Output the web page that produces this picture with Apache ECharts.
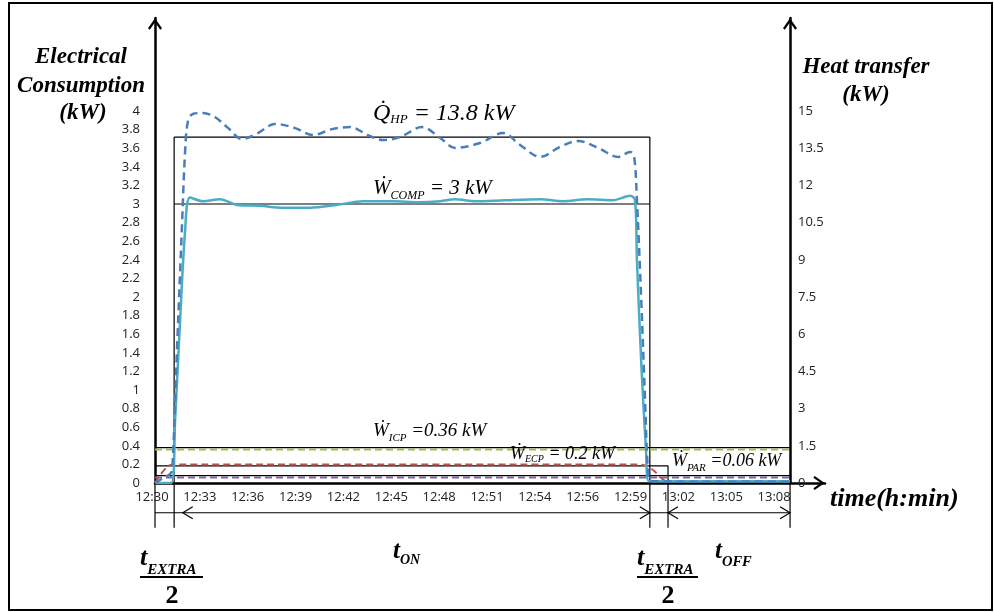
<!DOCTYPE html>
<html>
<head>
<meta charset="utf-8">
<script src="https://cdn.jsdelivr.net/npm/echarts@6/dist/echarts.min.js"></script>
<style>
html,body{margin:0;padding:0;background:#fff;}
#chart{width:994px;height:612px;}
#frame{position:absolute;left:8px;top:2px;width:985px;height:609px;border:2px solid #000;box-sizing:border-box;pointer-events:none;}
</style>
</head>
<body>
<div id="chart"></div>
<div id="frame"></div>
<script>
// ---------------- data ----------------
// x is measured in tick steps of the time axis (0 = 12:30, 1 = 12:33, ...)
const tickLabels = ['12:30','12:33','12:36','12:39','12:42','12:45','12:48','12:51','12:54','12:56','12:59','13:02','13:05','13:08'];
const leftLabelMax = 4;     // kW, last labelled tick (left axis)
const rightLabelMax = 15;   // kW, last labelled tick (right axis)

// Heat transfer of the heat pump (right axis, kW)
const qhpX  = [0, 0.17, 0.31, 0.36, 0.46, 0.56, 0.63, 0.69, 0.79, 1.00, 1.25, 1.53, 1.82, 2.15, 2.51, 2.93, 3.30, 3.70, 4.08, 4.45, 4.76, 5.12, 5.58, 5.96, 6.27, 6.79, 7.27, 7.63, 8.05, 8.46, 8.84, 9.26, 9.68, 9.93, 10.01, 10.07, 10.16, 10.24, 10.30, 10.36, 11.5, 13.27];
const qhpKW = [0, 0.2, 0.36, 0.52, 5.4, 10.2, 13.4, 14.6, 14.88, 14.92, 14.76, 14.31, 13.87, 14.11, 14.48, 14.31, 14.03, 14.27, 14.35, 14.03, 13.83, 13.95, 14.35, 13.91, 13.51, 13.71, 14.11, 13.63, 13.15, 13.55, 13.79, 13.51, 13.15, 13.35, 13.19, 11.4, 7.4, 3.35, 0.52, 0.08, 0.05, 0.05];

// Compressor electrical consumption (left axis, kW)
const compX  = [0, 0.34, 0.42, 0.52, 0.63, 0.73, 1.00, 1.36, 1.71, 2.19, 2.67, 3.24, 3.80, 4.35, 4.97, 5.50, 5.96, 6.27, 6.69, 7.31, 8.05, 8.53, 9.03, 9.57, 9.93, 10.03, 10.07, 10.16, 10.26, 10.32, 11.5, 13.27];
const compKW = [0, 0, 0.68, 1.7, 2.72, 3.07, 3.03, 3.05, 2.99, 2.98, 2.96, 2.96, 2.99, 3.03, 3.03, 3.02, 3.03, 3.05, 3.03, 3.04, 3.05, 3.03, 3.05, 3.04, 3.09, 3.04, 2.4, 1.3, 0.35, 0.02, 0.02, 0.02];

// External circulation pump (left axis, kW)
const ecpX  = [0, 0.36, 1.0, 10.0, 10.2, 10.35, 10.45, 10.55, 10.72];
const ecpKW = [0, 0.2, 0.2, 0.2, 0.195, 0.16, 0.12, 0.065, 0];

// Internal circulation pump (left axis, kW)
const icpX  = [0, 13.27];
const icpKW = [0.36, 0.36];

// Parasitic consumption (left axis, kW)
const parX  = [0, 13.27];
const parKW = [0.06, 0.06];

// phase boundaries (x in tick steps)
const tStart = 0, tOnStart = 0.40, tOnEnd = 10.34, tOffStart = 10.72, tEnd = 13.27;
const tOnArrowTip = 0.58;
// reference levels of the annotation boxes (left axis, kW)
const qhpRefLevel = 3.72, compRefLevel = 3.0, icpBoxTop = 0.38, ecpBoxBottom = 0.185, parBoxBottom = 0.08;
// dimension line levels below the time axis (left axis units)
const dimLevel = -0.32, dimFoot = -0.48;

// ---------------- build ----------------
const pairs = (xs, ys) => xs.map((x, i) => [x, ys[i]]);

const boxSegments = [
  [tOnStart, qhpRefLevel, tOnEnd, qhpRefLevel],
  [tOnStart, compRefLevel, tOnEnd, compRefLevel],
  [tOnStart, qhpRefLevel, tOnStart, dimFoot],
  [tOnEnd, qhpRefLevel, tOnEnd, dimFoot],
  [tStart, icpBoxTop, tEnd, icpBoxTop],
  [tStart, ecpBoxBottom, tOffStart, ecpBoxBottom],
  [tOffStart, ecpBoxBottom, tOffStart, dimFoot],
  [tStart, parBoxBottom, tEnd, parBoxBottom],
  [tStart, 0, tStart, dimFoot],
  [tEnd, 0, tEnd, dimFoot],
  [tStart, dimLevel, tEnd, dimLevel]
];
const dimArrows = [
  [tOnArrowTip, dimLevel, -1],
  [tOnEnd, dimLevel, 1],
  [tOffStart, dimLevel, -1],
  [tEnd, dimLevel, 1]
];

const serif = '"Liberation Serif","Times New Roman",serif';
const sans = '"Open Sans","Liberation Sans",sans-serif';
const chevron = 'path://M0,10 L7,0 L14,10 L12.2,11.3 L7,3.8 L1.8,11.3 Z';

function richText(x, top, parts, align) {
  const rich = {};
  let text = '';
  parts.forEach((p, i) => {
    rich['p' + i] = {
      fontFamily: serif, fontSize: p.size, lineHeight: p.size,
      fontStyle: p.upright ? 'normal' : 'italic',
      fontWeight: p.bold ? 'bold' : 'normal',
      verticalAlign: 'top', padding: [p.drop || 0, 0, 0, 0],
      fill: '#000', color: '#000'
    };
    text += '{p' + i + '|' + p.t + '}';
  });
  return {
    type: 'text', x: x, y: top, silent: true, z: 100,
    style: { text: text, rich: rich, fill: '#000',
      align: align || 'left', textAlign: align || 'left',
      verticalAlign: 'top', textVerticalAlign: 'top' }
  };
}
function plainText(x, y, t, size, opt) {
  opt = opt || {};
  return {
    type: 'text', x: x, y: y, silent: true, z: 100,
    style: { text: t, fill: '#000',
      font: (opt.upright ? '' : 'italic ') + 'bold ' + size + 'px ' + serif,
      align: opt.align || 'center', textAlign: opt.align || 'center',
      verticalAlign: 'middle', textVerticalAlign: 'middle' }
  };
}
function hLine(x1, x2, y, w) {
  return { type: 'line', silent: true, z: 100, shape: { x1: x1, y1: y, x2: x2, y2: y }, style: { stroke: '#000', lineWidth: w } };
}

const graphics = [
  plainText(81, 57, 'Electrical', 23),
  plainText(81, 86, 'Consumption', 23),
  plainText(83, 113, '(kW)', 23),
  plainText(866, 67, 'Heat transfer', 23),
  plainText(866, 95, '(kW)', 23),
  plainText(830, 499, 'time(h:min)', 26, { align: 'left' }),
  richText(373, 101.8, [{ t: 'Q\u0307', size: 24 }, { t: 'HP', size: 13, drop: 11.4 }, { t: ' = 13.8 kW', size: 24 }]),
  richText(373, 177.6, [{ t: '\u1E86', size: 21 }, { t: 'COMP', size: 12, drop: 12.4 }, { t: ' = 3 kW', size: 21 }]),
  richText(373, 421.7, [{ t: '\u1E86', size: 19 }, { t: 'ICP', size: 11, drop: 10.7 }, { t: ' =0.36 kW', size: 19 }]),
  richText(510, 445, [{ t: '\u1E86', size: 18 }, { t: 'ECP', size: 10, drop: 9.7 }, { t: ' = 0.2 kW', size: 18 }]),
  richText(672, 452, [{ t: '\u1E86', size: 18 }, { t: 'PAR', size: 11, drop: 10.9 }, { t: ' =0.06 kW', size: 18 }]),
  richText(140, 545.4, [{ t: 't', size: 26, bold: true }, { t: 'EXTRA', size: 15, bold: true, drop: 17 }]),
  hLine(140, 203, 577, 2),
  plainText(172, 596, '2', 26, { upright: true }),
  richText(637, 545.4, [{ t: 't', size: 26, bold: true }, { t: 'EXTRA', size: 15, bold: true, drop: 17 }]),
  hLine(637, 698, 577, 2),
  plainText(668, 596, '2', 26, { upright: true }),
  richText(393, 539, [{ t: 't', size: 25, bold: true }, { t: 'ON', size: 14, bold: true, drop: 14.4 }]),
  richText(715, 539, [{ t: 't', size: 25, bold: true }, { t: 'OFF', size: 14.5, bold: true, drop: 16 }])
];

const chart = echarts.init(document.getElementById('chart'), null, { renderer: 'canvas' });

const axisLineStyle = { color: '#000', width: 2.5 };

chart.setOption({
  animation: false,
  backgroundColor: '#fff',
  grid: { left: 155, right: 169, top: 18, bottom: 129, containLabel: false },
  xAxis: {
    type: 'value', min: 0, max: 14, interval: 1,
    axisLine: { onZero: false, lineStyle: axisLineStyle, symbol: ['none', chevron], symbolSize: [14, 12], symbolOffset: [0, -6] },
    axisTick: { show: false },
    splitLine: { show: false },
    axisLabel: {
      margin: 8, color: '#222', fontFamily: sans, fontSize: 13, padding: [0, 6, 0, 0],
      formatter: v => (tickLabels[Math.round(v)] !== undefined ? tickLabels[Math.round(v)] : '')
    }
  },
  yAxis: [
    {
      type: 'value', min: 0, max: 5, interval: 0.2, position: 'left',
      axisLine: { show: true, onZero: false, lineStyle: axisLineStyle, symbol: ['none', chevron], symbolSize: [14, 12], symbolOffset: [0, -6] },
      axisTick: { show: false },
      splitLine: { show: false },
      axisLabel: {
        margin: 15, color: '#222', fontFamily: sans, fontSize: 13,
        formatter: v => (v <= leftLabelMax + 1e-9 ? String(+v.toFixed(1)) : '')
      }
    },
    {
      type: 'value', min: 0, max: 18.75, interval: 1.5, position: 'right', offset: -35,
      axisLine: { show: true, onZero: false, lineStyle: axisLineStyle, symbol: ['none', chevron], symbolSize: [14, 12], symbolOffset: [0, -6] },
      axisTick: { show: false },
      splitLine: { show: false },
      axisLabel: {
        margin: 8, color: '#222', fontFamily: sans, fontSize: 13,
        formatter: v => (v <= rightLabelMax + 1e-9 ? String(+v.toFixed(1)) : '')
      }
    }
  ],
  series: [
    {
      name: 'boxes', type: 'custom', clip: false, silent: true, z: 1,
      xAxisIndex: 0, yAxisIndex: 0,
      data: boxSegments,
      renderItem: (params, api) => {
        const a = api.coord([api.value(0), api.value(1)]);
        const b = api.coord([api.value(2), api.value(3)]);
        return { type: 'line', shape: { x1: a[0], y1: a[1], x2: b[0], y2: b[1] }, style: { stroke: '#000', lineWidth: 1.2 } };
      }
    },
    {
      name: 'dimension arrows', type: 'custom', clip: false, silent: true, z: 1,
      xAxisIndex: 0, yAxisIndex: 0,
      data: dimArrows,
      renderItem: (params, api) => {
        const p = api.coord([api.value(0), api.value(1)]);
        const d = api.value(2);
        return { type: 'polyline', shape: { points: [[p[0] - d * 10, p[1] - 6], p, [p[0] - d * 10, p[1] + 6]] }, style: { stroke: '#000', lineWidth: 1.2, fill: null } };
      }
    },
    {
      name: 'W_ICP', type: 'line', yAxisIndex: 0, data: pairs(icpX, icpKW), symbol: 'none', z: 3,
      lineStyle: { color: '#9BBB59', width: 2, type: [7, 4] }
    },
    {
      name: 'W_PAR', type: 'line', yAxisIndex: 0, data: pairs(parX, parKW), symbol: 'none', z: 3,
      lineStyle: { color: '#8064A2', width: 2, type: [7, 4] }
    },
    {
      name: 'W_ECP', type: 'line', yAxisIndex: 0, data: pairs(ecpX, ecpKW), symbol: 'none', z: 3, smooth: 0.3,
      lineStyle: { color: '#C0504D', width: 2, type: [7, 4] }
    },
    {
      name: 'W_COMP', type: 'line', yAxisIndex: 0, data: pairs(compX, compKW), symbol: 'none', z: 4, smooth: 0.3,
      lineStyle: { color: '#4BACC6', width: 2.5 }
    },
    {
      name: 'Q_HP', type: 'line', yAxisIndex: 1, data: pairs(qhpX, qhpKW), symbol: 'none', z: 4, smooth: 0.35,
      lineStyle: { color: '#4A7EBB', width: 2.5, type: [8, 5] }
    }
  ],
  graphic: graphics
});
</script>
</body>
</html>
